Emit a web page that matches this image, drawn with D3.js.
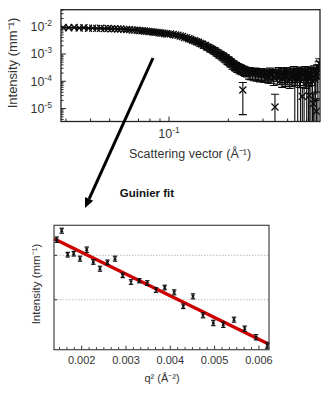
<!DOCTYPE html>
<html>
<head>
<meta charset="utf-8">
<script src="https://cdn.jsdelivr.net/npm/d3@7"></script>
<style>
  html, body { margin: 0; padding: 0; background: #fff; }
  svg { display: block; }
  text { font-family: "Liberation Sans", Arial, sans-serif; fill: #333; }
</style>
</head>
<body>
<svg id="chart" width="327" height="417"></svg>
<script>
// ---------- Data: full scattering curve (top panel) ----------
const topQ = [
  0.029,0.031,0.033,0.035,0.037,0.039,0.041,0.043,0.045,0.047,
  0.049,0.051,0.053,0.055,0.057,0.059,0.061,0.063,0.065,0.067,
  0.069,0.071,0.073,0.075,0.077,0.079,0.081,0.083,0.085,0.087,
  0.089,0.091,0.093,0.095,0.097,0.099,
  0.102,0.105,0.108,0.111,0.114,0.117,0.120,0.123,0.126,0.129,
  0.132,0.135,0.138,0.141,0.144,0.147,0.150,0.153,0.156,0.159,
  0.162,0.165,0.168,0.171,0.174,0.177,0.180,0.183,0.186,0.189,
  0.192,0.195,0.198,0.201,0.204,0.207,0.210,0.213,0.216,0.219,
  0.222,0.225,0.228,0.231,0.234,0.237,0.240,0.243,0.246,0.249,
  0.255,0.260,0.265,0.270,0.275,0.280,0.285,0.290,0.295,0.300,
  0.305,0.310,0.315,0.320,0.325,0.330,0.335,0.340,0.345,0.350,
  0.355,0.360,0.365,0.370,0.375,0.380,0.385,0.390,0.395,0.400,
  0.405,0.410,0.415,0.420,0.425,0.430,0.435,0.440,0.445,0.450,
  0.455,0.460,0.465,0.470,0.475,0.480,0.485,0.490,0.495,0.500,
  0.505,0.510,0.515,0.520,0.525,0.530,0.535,0.540,0.545,0.550,
  0.555,0.560,0.565,0.570,0.575,0.580
];
const topI = [
  9.4e-3,9.1e-3,9.3e-3,9.0e-3,9.1e-3,8.8e-3,8.9e-3,8.7e-3,8.8e-3,8.5e-3,
  8.6e-3,8.4e-3,8.4e-3,8.2e-3,8.2e-3,8.0e-3,7.9e-3,7.8e-3,7.6e-3,7.5e-3,
  7.4e-3,7.2e-3,7.1e-3,7.0e-3,6.8e-3,6.7e-3,6.6e-3,6.4e-3,6.3e-3,6.2e-3,
  6.0e-3,5.9e-3,5.8e-3,5.6e-3,5.5e-3,5.35e-3,
  5.45e-3,5.2e-3,5.0e-3,4.85e-3,4.55e-3,4.4e-3,4.05e-3,3.9e-3,3.6e-3,3.45e-3,
  3.15e-3,3.05e-3,2.8e-3,2.7e-3,2.45e-3,2.35e-3,2.1e-3,2.05e-3,1.82e-3,1.75e-3,
  1.58e-3,1.5e-3,1.36e-3,1.3e-3,1.16e-3,1.1e-3,9.8e-4,9.4e-4,8.5e-4,8.1e-4,
  7.3e-4,6.9e-4,6.1e-4,5.8e-4,5.1e-4,4.9e-4,4.3e-4,4.15e-4,3.75e-4,3.6e-4,
  3.3e-4,3.25e-4,3.0e-4,2.95e-4,2.75e-4,4.8e-5,2.6e-4,2.45e-4,2.4e-4,2.25e-4,
  2.2e-4,2.1e-4,2.05e-4,1.95e-4,2.1e-4,1.85e-4,1.95e-4,1.75e-4,2.0e-4,1.8e-4,
  1.65e-4,1.9e-4,1.7e-4,1.6e-4,2.1e-4,1.65e-4,1.85e-4,1.4e-4,1.15e-5,1.9e-4,
  1.55e-4,2.2e-4,1.5e-4,1.75e-4,1.3e-4,2.0e-4,1.6e-4,1.4e-4,2.2e-4,1.55e-4,
  1.8e-4,1.25e-4,2.05e-4,1.45e-4,1.7e-4,2.4e-4,1.3e-4,1.6e-4,1.9e-4,1.2e-4,
  2.2e-4,1.5e-4,1.35e-4,2.0e-4,2.8e-5,1.7e-4,1.25e-4,2.3e-4,1.45e-4,9.0e-5,
  1.9e-4,1.6e-4,3.0e-5,2.1e-4,1.3e-4,1.8e-4,1.0e-4,1.5e-5,2.4e-4,1.2e-4,
  1.7e-4,8.0e-6,2.2e-4,1.5e-4,3.2e-4,4.5e-4
];
const topErr = [
  1.8e-4,1.8e-4,1.8e-4,1.7e-4,1.7e-4,1.7e-4,1.7e-4,1.6e-4,1.6e-4,1.6e-4,
  1.6e-4,1.6e-4,1.6e-4,1.5e-4,1.5e-4,1.5e-4,1.5e-4,1.5e-4,1.5e-4,1.5e-4,
  1.6e-4,1.7e-4,1.8e-4,1.9e-4,2.0e-4,2.1e-4,2.2e-4,2.3e-4,2.4e-4,2.5e-4,
  2.6e-4,2.7e-4,2.8e-4,2.9e-4,3.0e-4,3.2e-4,
  3.5e-4,3.6e-4,4.0e-4,4.4e-4,4.6e-4,4.8e-4,5.0e-4,5.0e-4,5.0e-4,5.2e-4,
  5.0e-4,5.2e-4,5.0e-4,5.0e-4,4.9e-4,4.8e-4,4.4e-4,4.4e-4,4.0e-4,4.0e-4,
  3.8e-4,3.7e-4,3.4e-4,3.4e-4,3.1e-4,3.0e-4,2.8e-4,2.7e-4,2.5e-4,2.5e-4,
  2.3e-4,2.2e-4,2.0e-4,1.9e-4,1.7e-4,1.6e-4,1.5e-4,1.4e-4,1.3e-4,1.25e-4,
  1.2e-4,1.15e-4,1.1e-4,1.05e-4,1.0e-4,4.2e-5,9.5e-5,9.0e-5,8.5e-5,8.0e-5,
  1.0e-4,9.5e-5,9.0e-5,9.0e-5,9.5e-5,8.5e-5,9.0e-5,8.0e-5,9.0e-5,8.0e-5,
  7.5e-5,8.5e-5,8.0e-5,7.5e-5,9.5e-5,8.0e-5,8.5e-5,7.0e-5,2.2e-5,9.0e-5,
  7.5e-5,1.0e-4,7.5e-5,8.5e-5,7.0e-5,9.5e-5,8.0e-5,7.5e-5,1.0e-4,8.0e-5,
  9.0e-5,7.0e-5,1.0e-4,8.0e-5,9.0e-5,1.1e-4,1.4e-4,9.0e-5,1.0e-4,1.3e-4,
  1.1e-4,9.0e-5,1.5e-4,1.1e-4,3.0e-5,1.0e-4,1.4e-4,1.2e-4,9.0e-5,1.0e-4,
  1.1e-4,1.7e-4,3.5e-5,1.2e-4,1.5e-4,1.1e-4,1.2e-4,2.0e-5,1.3e-4,1.6e-4,
  1.5e-4,1.5e-5,1.8e-4,1.7e-4,2.0e-4,2.2e-4
];
const topYTickExp = [-2, -3, -4, -5];
const topXTickExp = [-1];

// ---------- Data: Guinier region (bottom panel) ----------
const guinierQ2 = [
  0.001436,0.001549,0.001684,0.001819,0.001962,0.002113,0.002262,0.002413,0.002582,
  0.002752,0.002926,0.003113,0.003300,0.003481,0.003677,0.003874,0.004088,0.004293,
  0.004512,0.004738,0.004971,0.005196,0.005438,0.005679,0.005935,0.006190
];
const guinierLnI = [
  -4.824,-4.723,-4.993,-4.982,-5.038,-4.937,-5.075,-5.151,-5.079,
  -5.038,-5.225,-5.301,-5.286,-5.312,-5.391,-5.363,-5.417,-5.574,
  -5.462,-5.676,-5.762,-5.782,-5.725,-5.827,-5.923,-6.014
];
const guinierErr = [
  0.030,0.028,0.026,0.026,0.028,0.030,0.026,0.028,0.026,
  0.028,0.026,0.026,0.024,0.026,0.026,0.026,0.028,0.026,
  0.028,0.028,0.030,0.030,0.028,0.030,0.030,0.032
];
const fitQ2 = [0.001375, 0.006228];
const fitLnI = [-4.813, -6.002];
const bottomXTicks = [0.002, 0.003, 0.004, 0.005, 0.006];
const bottomGridLnI = [-5.0, -5.5];

// ---------- Drawing ----------
const svg = d3.select("#chart");

// ===== Top panel =====
const T = { left: 61, right: 320, top: 9.7, bottom: 121.5 };
const xT = d3.scaleLog().domain([0.0283, 0.584]).range([T.left, T.right]);
const yT = d3.scaleLog().domain([Math.pow(10, -5.473), Math.pow(10, -1.377)]).range([T.bottom, T.top]);

svg.append("defs").append("clipPath").attr("id", "clipTop")
  .append("rect").attr("x", T.left).attr("y", T.top)
  .attr("width", T.right - T.left).attr("height", T.bottom - T.top);

const topData = topQ.map((q, i) => ({ q, I: topI[i], e: topErr[i] }));
const gTopData = svg.append("g").attr("clip-path", "url(#clipTop)");
const yMinT = yT.domain()[0] * 0.5;

const capW = 4, mk = 3.5, ink = "#0a0a0a";
gTopData.selectAll("g.pt").data(topData).join("g").attr("class", "pt").each(function (d) {
  const g = d3.select(this);
  const cx = xT(d.q);
  const lo = d.I - d.e > 0 ? d.I - d.e : yMinT;
  const hi = d.I + d.e;
  g.append("line").attr("x1", cx).attr("x2", cx).attr("y1", yT(lo)).attr("y2", yT(hi))
    .attr("stroke", ink).attr("stroke-width", 1.1);
  g.append("line").attr("x1", cx - capW).attr("x2", cx + capW).attr("y1", yT(hi)).attr("y2", yT(hi))
    .attr("stroke", ink).attr("stroke-width", 1.1);
  if (d.I - d.e > 0) {
    g.append("line").attr("x1", cx - capW).attr("x2", cx + capW).attr("y1", yT(lo)).attr("y2", yT(lo))
      .attr("stroke", ink).attr("stroke-width", 1.1);
  }
  const cy = yT(d.I);
  g.append("path").attr("d", `M${cx - mk},${cy - mk}L${cx + mk},${cy + mk}M${cx - mk},${cy + mk}L${cx + mk},${cy - mk}`)
    .attr("stroke", ink).attr("stroke-width", 1.3).attr("fill", "none");
});

// top axes ticks (inside)
const gTopAx = svg.append("g");
xT.ticks().forEach(v => {
  const major = Math.abs(Math.log10(v) - Math.round(Math.log10(v))) < 1e-9;
  const px = xT(v);
  if (px <= T.left + 0.5 || px >= T.right - 0.5) return;
  gTopAx.append("line").attr("x1", px).attr("x2", px).attr("y1", T.bottom).attr("y2", T.bottom - (major ? 5 : 3))
    .attr("stroke", "#222").attr("stroke-width", 1);
});
yT.ticks().forEach(v => {
  const major = Math.abs(Math.log10(v) - Math.round(Math.log10(v))) < 1e-9;
  const py = yT(v);
  if (py <= T.top + 0.5 || py >= T.bottom - 0.5) return;
  gTopAx.append("line").attr("x1", T.left).attr("x2", T.left + (major ? 5 : 2.5)).attr("y1", py).attr("y2", py)
    .attr("stroke", "#222").attr("stroke-width", 1);
});

// frame
svg.append("rect").attr("x", T.left).attr("y", T.top).attr("width", T.right - T.left).attr("height", T.bottom - T.top)
  .attr("fill", "none").attr("stroke", "#222").attr("stroke-width", 1.3);

// y tick labels
topYTickExp.forEach(ex => {
  const t = svg.append("text").attr("x", 52).attr("y", yT(Math.pow(10, ex)) + 4.5)
    .attr("text-anchor", "end").attr("font-size", 12.5);
  t.append("tspan").text("10");
  t.append("tspan").attr("dy", -5).attr("font-size", 8.5).text("-" + Math.abs(ex));
});
// x tick labels
topXTickExp.forEach(ex => {
  const t = svg.append("text").attr("x", xT(Math.pow(10, ex))).attr("y", 138)
    .attr("text-anchor", "middle").attr("font-size", 12.5);
  t.append("tspan").text("10");
  t.append("tspan").attr("dy", -5).attr("font-size", 8.5).text("-" + Math.abs(ex));
});
svg.append("text").attr("x", 190).attr("y", 158).attr("text-anchor", "middle").attr("font-size", 12.5)
  .text("Scattering vector (Å⁻¹)");
svg.append("text").attr("transform", "translate(17,63) rotate(-90)").attr("text-anchor", "middle")
  .attr("font-size", 13).text("Intensity (mm⁻¹)");

// ===== Arrow & title =====
const arrow = { x1: 153, y1: 58, x2: 85, y2: 208 };
const ang = Math.atan2(arrow.y2 - arrow.y1, arrow.x2 - arrow.x1);
const headL = 10, headW = 4.5;
const bx = arrow.x2 - headL * Math.cos(ang), by = arrow.y2 - headL * Math.sin(ang);
svg.append("line").attr("x1", arrow.x1).attr("y1", arrow.y1).attr("x2", bx).attr("y2", by)
  .attr("stroke", "#000").attr("stroke-width", 3);
svg.append("path").attr("d",
  `M${arrow.x2},${arrow.y2}L${bx + headW * Math.sin(ang)},${by - headW * Math.cos(ang)}L${bx - headW * Math.sin(ang)},${by + headW * Math.cos(ang)}Z`)
  .attr("fill", "#000");
svg.append("text").attr("x", 147).attr("y", 196.5).attr("text-anchor", "middle")
  .attr("font-size", 11.5).attr("font-weight", "bold").style("fill", "#111").text("Guinier fit");

// ===== Bottom panel =====
const B = { left: 54, right: 269, top: 225.3, bottom: 349.7 };
const xB = d3.scaleLinear().domain([0.001375, 0.006228]).range([B.left, B.right]);
const yB = d3.scaleLinear().domain([-6.063, -4.662]).range([B.bottom, B.top]);

// grid
bottomGridLnI.forEach(v => {
  svg.append("line").attr("x1", B.left).attr("x2", B.right).attr("y1", yB(v)).attr("y2", yB(v))
    .attr("stroke", "#bbb").attr("stroke-width", 1).attr("stroke-dasharray", "1.5,1.5");
  svg.append("line").attr("x1", B.left).attr("x2", B.left + 3).attr("y1", yB(v)).attr("y2", yB(v))
    .attr("stroke", "#333").attr("stroke-width", 1);
});
// x ticks
const minorStep = 0.001 / 6;
d3.range(0.001 + minorStep, 0.0063, minorStep).forEach(v => {
  const px = xB(v);
  if (px <= B.left + 0.5 || px >= B.right - 0.5) return;
  const major = Math.abs(v * 1000 - Math.round(v * 1000)) < 1e-6;
  svg.append("line").attr("x1", px).attr("x2", px).attr("y1", B.bottom).attr("y2", B.bottom - (major ? 4 : 2.5))
    .attr("stroke", "#333").attr("stroke-width", 1);
});
bottomXTicks.forEach(v => {
  svg.append("text").attr("x", xB(v)).attr("y", 364).attr("text-anchor", "middle").attr("font-size", 11)
    .text(v.toFixed(3));
});

// fit line
const fitData = fitQ2.map((q, i) => ({ q, v: fitLnI[i] }));
svg.append("path").datum(fitData)
  .attr("d", d3.line().x(d => xB(d.q)).y(d => yB(d.v)))
  .attr("stroke", "#cc0000").attr("stroke-width", 3.5).attr("fill", "none");

// points
const gData = guinierQ2.map((q, i) => ({ q, v: guinierLnI[i], e: guinierErr[i] }));
svg.append("g").selectAll("g").data(gData).join("g").each(function (d) {
  const g = d3.select(this);
  const cx = xB(d.q), y1 = yB(d.v - d.e), y2 = yB(d.v + d.e), cy = yB(d.v);
  g.append("line").attr("x1", cx).attr("x2", cx).attr("y1", y1).attr("y2", y2).attr("stroke", "#111").attr("stroke-width", 1.2);
  [y1, y2].forEach(yy => g.append("line").attr("x1", cx - 2.2).attr("x2", cx + 2.2).attr("y1", yy).attr("y2", yy)
    .attr("stroke", "#111").attr("stroke-width", 1.2));
  const s = 1.3;
  g.append("path").attr("d", `M${cx - s},${cy - s}L${cx + s},${cy + s}M${cx - s},${cy + s}L${cx + s},${cy - s}`)
    .attr("stroke", "#111").attr("stroke-width", 1.2);
});

// frame
svg.append("rect").attr("x", B.left).attr("y", B.top).attr("width", B.right - B.left).attr("height", B.bottom - B.top)
  .attr("fill", "none").attr("stroke", "#444").attr("stroke-width", 1.2);

svg.append("text").attr("x", 162).attr("y", 382).attr("text-anchor", "middle").attr("font-size", 11)
  .text("q² (Å⁻²)");
svg.append("text").attr("transform", "translate(40,284) rotate(-90)").attr("text-anchor", "middle")
  .attr("font-size", 11.5).text("Intensity (mm⁻¹)");
</script>
</body>
</html>
